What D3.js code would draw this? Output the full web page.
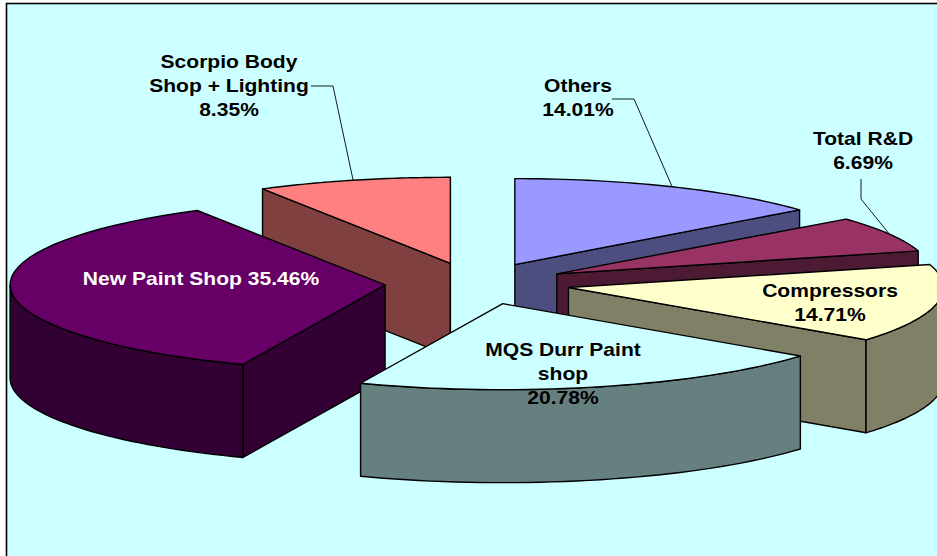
<html>
<head>
<script src="https://d3js.org/d3.v7.min.js"></script>
<style>
body {margin: 0; background: #fff;}
svg {display: block;}
text {font-family: "Liberation Sans", Arial, sans-serif; font-weight: bold; font-size: 18px; text-anchor: middle;}
.face {stroke: #000; stroke-width: 1.4; stroke-linejoin: round;}
.leader {fill: none; stroke: #000; stroke-width: 0.9;}
</style>
</head>
<body>
<svg width=937 height=556></svg>
<script>
// order is clockwise from 12 o'clock, as in the original pie
var categories = ["Others", "Total R&D", "Compressors", "MQS Durr Paint shop", "New Paint Shop", "Scorpio Body Shop + Lighting"];
var shares = [14.01, 6.69, 14.71, 20.78, 35.46, 8.35];
var topColors = ["#9999ff", "#993366", "#ffffcc", "#ccffff", "#660066", "#ff8080"];
var wallColors = ["#4d4d80", "#4d1a33", "#808066", "#668080", "#330033", "#804040"];
var labelLines = [["Others"], ["Total R&D"], ["Compressors"], ["MQS Durr Paint", "shop"], null, ["Scorpio Body", "Shop + Lighting"]];
// painter's order, back slices first
var drawOrder = [5, 4, 0, 1, 2, 3];

var explode = 0.243, depth = 93;
var xProj = d3.scaleLinear().domain([-1, 1]).range([476 - 375, 476 + 375]);
var yProj = d3.scaleLinear().domain([-1, 1]).range([283.5 - 86, 283.5 + 86]);
// the original has a bit of perspective, small per slice corrections for it
var nudgeX = [0, 0, 3, 3, 0, -2];
var widthFix = [0.985, 1, 1, 1, 1, 1];

var svg = d3.select("svg");
svg.append("rect").attr("x", 6.5).attr("y", 3.5).attr("width", 1000).attr("height", 700)
  .attr("fill", "#ccffff").attr("stroke", "#000").attr("stroke-width", 1.6);

var slices = d3.pie().sort(null).value(function (d) { return d; })(shares);
var line = d3.line();

// apex of a slice after it is pulled out along its middle angle
function apex(s) {
  var mid = (s.startAngle + s.endAngle) / 2;
  return [explode * Math.sin(mid), -explode * Math.cos(mid)];
}
function rimPoint(s, a, dy) {
  var c = apex(s);
  return [xProj(c[0] + widthFix[s.index] * Math.sin(a)) + nudgeX[s.index], yProj(c[1] - Math.cos(a)) + (dy || 0)];
}
function apexPoint(s, dy) {
  var c = apex(s);
  return [xProj(c[0]) + nudgeX[s.index], yProj(c[1]) + (dy || 0)];
}
function rim(s, a0, a1, dy) {
  return d3.range(0, 41).map(function (i) { return rimPoint(s, a0 + (a1 - a0) * i / 40, dy); });
}

drawOrder.forEach(function (i) {
  var s = slices[i];
  var g = svg.append("g");
  // radial walls, only those turned to the viewer
  [[s.startAngle, Math.sin(s.startAngle) < 0], [s.endAngle, Math.sin(s.endAngle) > 0]].forEach(function (w) {
    if (!w[1]) return;
    var pts = [apexPoint(s), rimPoint(s, w[0]), rimPoint(s, w[0], depth), apexPoint(s, depth)];
    g.append("path").attr("class", "face").attr("fill", wallColors[i]).attr("d", line(pts) + "Z");
  });
  // outer wall, only the part turned to the viewer
  var a0 = Math.max(s.startAngle, Math.PI / 2), a1 = Math.min(s.endAngle, Math.PI * 1.5);
  if (a1 > a0) {
    var wall = rim(s, a0, a1, 0).concat(rim(s, a1, a0, depth));
    g.append("path").attr("class", "face").attr("fill", wallColors[i]).attr("d", line(wall) + "Z");
  }
  var top = [apexPoint(s)].concat(rim(s, s.startAngle, s.endAngle, 0));
  g.append("path").attr("class", "face").attr("fill", topColors[i]).attr("d", line(top) + "Z");
});

// leader lines run to the rim at the middle of the slice
var leaders = [{i: 5, from: [311, 86], knee: [333, 86]}, {i: 0, from: [612, 99], knee: [634, 99]}, {i: 1, from: [861, 179], knee: [861, 199]}];
leaders.forEach(function (l) {
  var s = slices[l.i];
  var end = rimPoint(s, (s.startAngle + s.endAngle) / 2);
  svg.append("path").attr("class", "leader").attr("d", line([l.from, l.knee, end]));
});

// label anchors: centre x, first baseline
var labelPos = [[578, 92], [863, 145], [830, 297], [563, 356], null, [229, 68]];
var pct = function (v) { return d3.format(".2f")(v) + "%"; };
function putText(x, y, str, fill) {
  svg.append("text").attr("transform", "translate(" + x + "," + y + ") scale(1.17,1)").attr("fill", fill).text(str);
}
shares.forEach(function (v, i) {
  if (!labelLines[i]) return;
  labelLines[i].concat([pct(v)]).forEach(function (str, k) {
    putText(labelPos[i][0], labelPos[i][1] + k * 24.2, str, "#000");
  });
});
putText(201, 285, categories[4] + " " + pct(shares[4]), "#fff");
</script>
</body>
</html>
